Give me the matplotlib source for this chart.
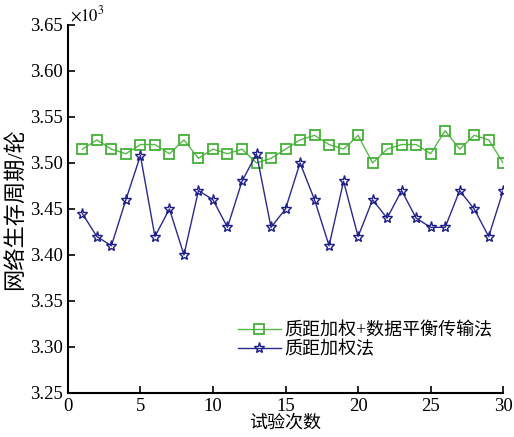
import matplotlib.pyplot as plt
from matplotlib.ticker import FormatStrFormatter

trials = list(range(1, 31))
balanced = [3.515, 3.525, 3.515, 3.510, 3.520, 3.520, 3.510, 3.525, 3.505, 3.515,
            3.510, 3.515, 3.500, 3.505, 3.515, 3.525, 3.530, 3.520, 3.515, 3.530,
            3.500, 3.515, 3.520, 3.520, 3.510, 3.535, 3.515, 3.530, 3.525, 3.500]
weighted = [3.445, 3.420, 3.410, 3.460, 3.508, 3.420, 3.450, 3.400, 3.470, 3.460,
            3.430, 3.480, 3.510, 3.430, 3.450, 3.500, 3.460, 3.410, 3.480, 3.420,
            3.460, 3.440, 3.470, 3.440, 3.430, 3.430, 3.470, 3.450, 3.420, 3.470]
labels = ['质距加权+数据平衡传输法', '质距加权法']
xticks = [0, 5, 10, 15, 20, 25, 30]
yticks = [3.25, 3.30, 3.35, 3.40, 3.45, 3.50, 3.55, 3.60, 3.65]

plt.rcParams['font.family'] = ['Liberation Serif', 'Noto Sans CJK SC']
plt.rcParams['mathtext.fontset'] = 'stix'

fig = plt.figure(figsize=(5.14, 4.37), dpi=100)
ax = fig.add_axes([0.132, 0.1007, 0.847, 0.8423])

ax.plot(trials, balanced, color='#55bb44', lw=1.0, marker='s', ms=7.5,
        mfc='none', mec='#44b038', mew=1.3, label=labels[0])
ax.plot(trials, weighted, color='#2a2a8c', lw=1.0, marker='*', ms=8,
        mfc='none', mec='#1c1c88', mew=1.0, label=labels[1])

ax.set_xlim(0, 30)
ax.set_ylim(3.25, 3.65)
ax.set_xticks(xticks)
ax.set_yticks(yticks)
ax.yaxis.set_major_formatter(FormatStrFormatter('%.2f'))
ax.tick_params(direction='in', length=5, width=1.2, labelsize=13.5)
for s in ['top', 'right']:
    ax.spines[s].set_visible(False)
for s in ['left', 'bottom']:
    ax.spines[s].set_linewidth(1.5)

ax.set_xlabel('试验次数', fontsize=13, labelpad=0)
ax.set_ylabel('网络生存周期/轮', fontsize=16, labelpad=2)
ax.text(0.005, 1.0, r'$\times10^3$', transform=ax.transAxes, fontsize=12,
        va='bottom', ha='left')

ax.legend(loc='lower left', bbox_to_anchor=(0.39, 0.095), frameon=False,
          borderaxespad=0, borderpad=0, handlelength=2.4, handletextpad=0.2,
          labelspacing=0.1, fontsize=13)

fig.savefig('out.png', dpi=100)
